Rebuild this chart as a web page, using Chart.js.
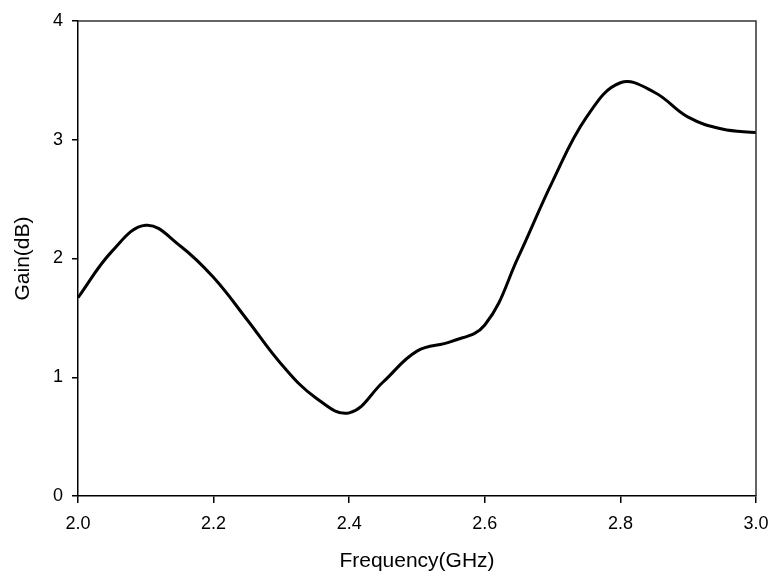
<!DOCTYPE html>
<html>
<head>
<meta charset="utf-8">
<script src="https://cdn.jsdelivr.net/npm/chart.js@4.4.1/dist/chart.umd.min.js"></script>
<style>
  html, body { margin: 0; padding: 0; background: #fff; }
  #wrap { width: 774px; height: 580px; }
</style>
</head>
<body>
<div id="wrap"><canvas id="gain-chart" width="774" height="580"></canvas></div>
<script>
const frequency = [2.00, 2.05, 2.10, 2.15, 2.20, 2.25, 2.30, 2.35, 2.40, 2.45, 2.50,
                   2.55, 2.60, 2.65, 2.70, 2.75, 2.80, 2.85, 2.90, 2.95, 3.00];
const gain = [1.67, 2.06, 2.28, 2.11, 1.84, 1.48, 1.11, 0.83, 0.70, 0.96, 1.22,
              1.30, 1.44, 2.02, 2.65, 3.19, 3.48, 3.40, 3.19, 3.09, 3.06];

const xTicks = [2.0, 2.2, 2.4, 2.6, 2.8, 3.0];
const yTicks = [0, 1, 2, 3, 4];

const points = frequency.map((f, i) => ({ x: f, y: gain[i] }));

// draws the top and right edges of the plot box
const frameBox = {
  id: 'frameBox',
  afterDraw(chart) {
    const { ctx, chartArea } = chart;
    ctx.save();
    ctx.strokeStyle = '#333';
    ctx.lineWidth = 1.5;
    ctx.beginPath();
    ctx.moveTo(chartArea.left, chartArea.top);
    ctx.lineTo(chartArea.right, chartArea.top);
    ctx.lineTo(chartArea.right, chartArea.bottom);
    ctx.stroke();
    ctx.restore();
  }
};

const fontFamily = 'Arial, "Liberation Sans"';

new Chart(document.getElementById('gain-chart'), {
  type: 'line',
  data: {
    datasets: [{
      data: points,
      borderColor: '#000',
      borderWidth: 3,
      pointRadius: 0,
      fill: false,
      tension: 0.4
    }]
  },
  options: {
    responsive: false,
    animation: false,
    layout: { padding: { top: 21, right: 18, left: 0, bottom: 0 } },
    plugins: { legend: { display: false }, tooltip: { enabled: false } },
    scales: {
      x: {
        type: 'linear',
        min: 2,
        max: 3,
        afterBuildTicks: (axis) => { axis.ticks = xTicks.map(v => ({ value: v })); },
        afterFit: (axis) => {
          axis.height = 84;
          axis.paddingLeft = 0;
          axis.paddingRight = 0;
        },
        ticks: {
          color: '#000',
          font: { family: fontFamily, size: 18 },
          padding: 10,
          maxRotation: 0,
          callback: (v) => Number(v).toFixed(1)
        },
        grid: { drawOnChartArea: false, tickLength: 7, color: '#000', lineWidth: 1.5 },
        border: { color: '#000', width: 1.5 },
        title: {
          display: true,
          text: 'Frequency(GHz)',
          color: '#000',
          font: { family: fontFamily, size: 21 },
          padding: { top: 0, bottom: 6 }
        }
      },
      y: {
        min: 0,
        max: 4,
        afterBuildTicks: (axis) => { axis.ticks = yTicks.map(v => ({ value: v })); },
        afterFit: (axis) => {
          axis.width = 78;
          axis.paddingTop = 0;
          axis.paddingBottom = 0;
        },
        ticks: {
          color: '#000',
          font: { family: fontFamily, size: 18 },
          padding: 9
        },
        grid: { drawOnChartArea: false, tickLength: 6, color: '#000', lineWidth: 1.5 },
        border: { color: '#000', width: 1.5 },
        title: {
          display: true,
          text: 'Gain(dB)',
          color: '#000',
          font: { family: fontFamily, size: 21 },
          padding: { top: 11, bottom: 0 }
        }
      }
    }
  },
  plugins: [frameBox]
});
</script>
</body>
</html>
